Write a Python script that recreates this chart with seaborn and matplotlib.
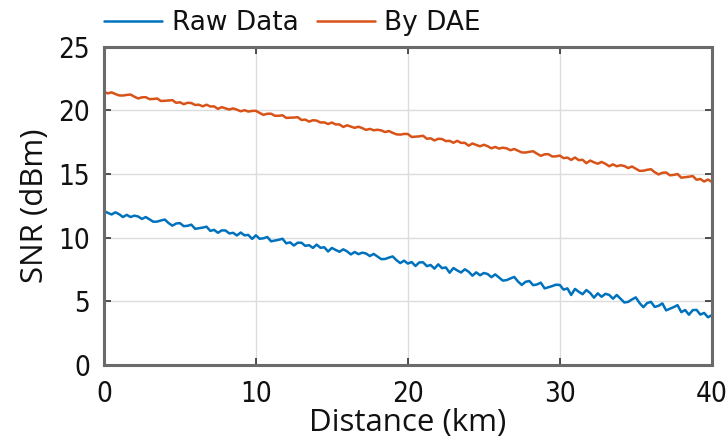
import numpy as np
import pandas as pd
import matplotlib
matplotlib.use("Agg")
import matplotlib.pyplot as plt
import seaborn as sns

distance_km = [i * 0.25 for i in range(161)]

by_dae = [
    21.46, 21.34, 21.42, 21.29, 21.18, 21.17, 21.22, 21.25, 21.08, 20.94,
    21.03, 21.04, 20.89, 20.90, 20.94, 20.74, 20.76, 20.78, 20.81, 20.60,
    20.64, 20.49, 20.60, 20.58, 20.43, 20.45, 20.32, 20.45, 20.31, 20.32,
    20.12, 20.26, 20.16, 20.07, 20.16, 20.06, 19.93, 20.02, 19.91, 19.96,
    19.97, 19.80, 19.65, 19.74, 19.74, 19.58, 19.58, 19.62, 19.41, 19.43,
    19.44, 19.47, 19.25, 19.28, 19.12, 19.23, 19.20, 19.05, 19.06, 18.93,
    19.05, 18.90, 18.90, 18.70, 18.83, 18.73, 18.63, 18.72, 18.61, 18.47,
    18.55, 18.44, 18.48, 18.43, 18.30, 18.38, 18.24, 18.12, 18.10, 18.15,
    18.15, 17.91, 17.94, 17.96, 18.01, 17.77, 17.81, 17.64, 17.77, 17.75,
    17.59, 17.61, 17.46, 17.61, 17.45, 17.45, 17.23, 17.40, 17.29, 17.18,
    17.30, 17.19, 17.02, 17.13, 17.00, 17.07, 17.02, 16.87, 16.97, 16.83,
    16.70, 16.69, 16.75, 16.79, 16.60, 16.43, 16.55, 16.56, 16.38, 16.39,
    16.45, 16.25, 16.29, 16.11, 16.30, 16.09, 16.12, 15.85, 16.06, 15.92,
    15.81, 15.95, 15.81, 15.61, 15.76, 15.61, 15.69, 15.63, 15.47, 15.59,
    15.42, 15.25, 15.26, 15.33, 15.38, 15.14, 14.97, 15.10, 15.12, 14.90,
    14.93, 15.00, 14.71, 14.75, 14.79, 14.84, 14.55, 14.61, 14.41, 14.57,
    14.38,
]

raw_data = [
    12.10, 11.95, 11.82, 11.99, 11.84, 11.62, 11.79, 11.62, 11.73, 11.66,
    11.47, 11.62, 11.43, 11.25, 11.26, 11.35, 11.42, 11.15, 10.94, 11.11,
    11.14, 10.90, 10.93, 11.02, 10.69, 10.74, 10.79, 10.86, 10.53, 10.61,
    10.38, 10.57, 10.56, 10.33, 10.38, 10.17, 10.40, 10.18, 10.21, 9.90,
    10.18, 9.91, 9.95, 10.05, 9.71, 9.77, 9.83, 9.91, 9.55, 9.63,
    9.38, 9.60, 9.60, 9.35, 9.41, 9.19, 9.45, 9.20, 9.24, 8.91,
    9.19, 9.03, 8.89, 9.08, 8.92, 8.68, 8.87, 8.70, 8.82, 8.75,
    8.55, 8.72, 8.51, 8.31, 8.32, 8.43, 8.52, 8.23, 8.00, 8.19,
    7.96, 8.08, 7.77, 8.05, 8.06, 7.76, 7.85, 7.56, 7.90, 7.60,
    7.66, 7.24, 7.61, 7.42, 7.26, 7.51, 7.32, 7.01, 7.27, 7.04,
    7.22, 7.14, 6.89, 7.11, 6.87, 6.62, 6.66, 6.79, 6.91, 6.55,
    6.28, 6.53, 6.59, 6.26, 6.32, 6.46, 6.01, 6.10, 6.19, 6.30,
    6.28, 5.91, 6.01, 5.49, 5.97, 5.74, 5.55, 5.88, 5.65, 5.28,
    5.62, 5.35, 5.58, 5.50, 5.20, 5.49, 5.20, 4.90, 4.95, 5.14,
    5.30, 4.86, 4.53, 4.86, 4.95, 4.55, 4.64, 4.83, 4.28, 4.41,
    4.54, 4.69, 4.14, 4.31, 3.94, 4.30, 4.32, 3.95, 4.08, 3.74,
    3.90,
]

series_names = ["Raw Data", "By DAE"]
x_ticks = [0, 10, 20, 30, 40]
y_ticks = [0, 5, 10, 15, 20, 25]

df = pd.DataFrame({
    "Distance": distance_km * 2,
    "SNR": raw_data + by_dae,
    "Series": [series_names[0]] * len(raw_data) + [series_names[1]] * len(by_dae),
})

sns.set_theme(style="white")
plt.rcParams["font.family"] = ["DejaVu Sans"]

fig = plt.figure(figsize=(7.27, 4.46), dpi=100)
ax = fig.add_axes([0.143, 0.182, 0.836, 0.713])

sns.lineplot(data=df, x="Distance", y="SNR", hue="Series",
             palette={"Raw Data": "#0072BD", "By DAE": "#D95319"},
             linewidth=1.8, ax=ax, estimator=None, sort=False)

ax.set_xlim(0, 40)
ax.set_ylim(0, 25)
ax.set_xticks(x_ticks)
ax.set_yticks(y_ticks)
ax.grid(True, color="#dcdcdc", linewidth=1.0)
ax.tick_params(direction="in", length=5, width=1.2, colors="#333333",
               top=True, right=True, bottom=True, left=True)
ax.tick_params(axis="x", pad=11)
ax.tick_params(axis="y", pad=10)
for lab in ax.get_xticklabels() + ax.get_yticklabels():
    lab.set_fontstretch("condensed")
    lab.set_fontsize(20)
    lab.set_color("#111111")
for s in ax.spines.values():
    s.set_color("#6a6a6a")
    s.set_linewidth(2.2)

ax.set_xlabel("Distance (km)", fontsize=22.5, color="#111111", labelpad=0,
              family=["Open Sans", "DejaVu Sans"])
ax.set_ylabel("SNR (dBm)", fontsize=22.5, color="#111111", labelpad=6,
              family=["Open Sans", "DejaVu Sans"])

leg = ax.legend(title=None, loc="lower center", bbox_to_anchor=(0.31, 1.0),
                ncol=2, frameon=False, fontsize=19, handlelength=2.2,
                columnspacing=0.7, handletextpad=0.35, borderaxespad=0.0)
for t in leg.get_texts():
    t.set_color("#111111")

fig.savefig("out.png", dpi=100)
